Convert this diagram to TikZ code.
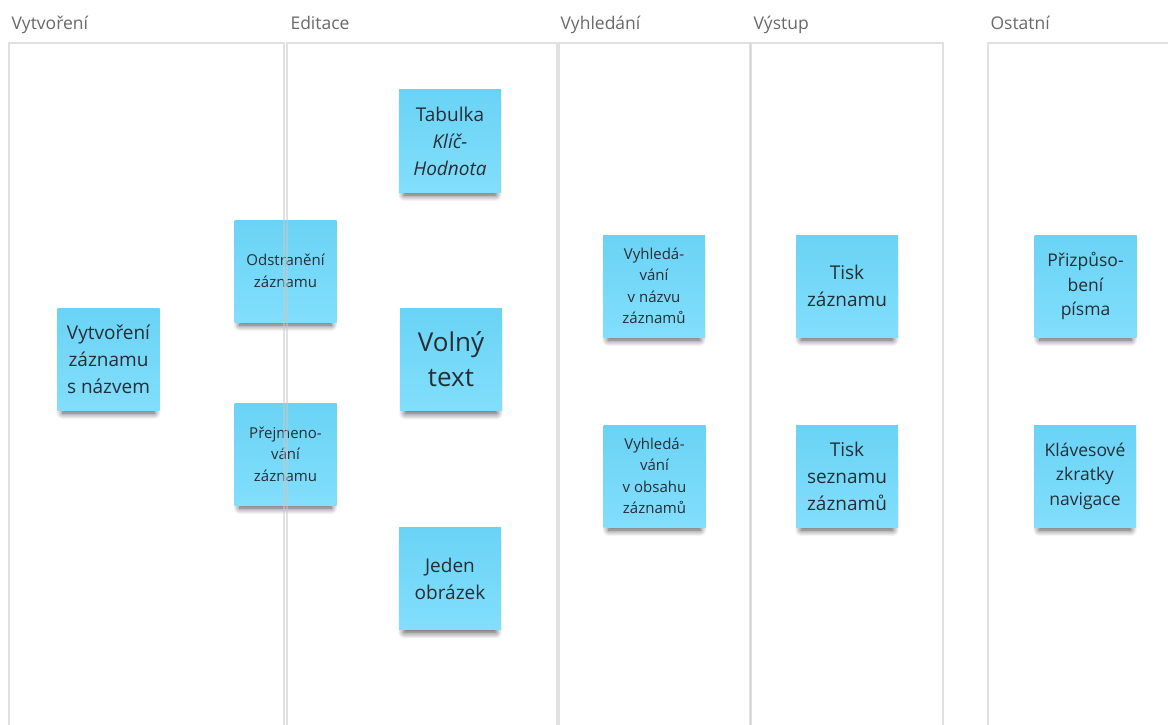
\documentclass[tikz,border=0pt]{standalone}
\usepackage{fontspec}
\setmainfont{Open Sans}
\usetikzlibrary{shadows.blur}

\definecolor{notetop}{RGB}{106,211,245}
\definecolor{notebottom}{RGB}{130,222,252}
\definecolor{notetext}{RGB}{38,46,52}
\definecolor{titlegray}{RGB}{105,105,105}
\definecolor{lanegray}{RGB}{200,200,200}

\begin{document}
\begin{tikzpicture}[x=1pt, y=-1pt,
    note/.style={minimum width=102pt, minimum height=102pt, inner sep=2pt,
        align=center, text=notetext, top color=notetop, bottom color=notebottom,
        blur shadow={shadow xshift=0pt, shadow yshift=-9pt, shadow scale=0.9,
            shadow opacity=70, shadow blur radius=7pt, shadow blur steps=14}},
    fsmall/.style={font=\fontsize{15}{21.5}\selectfont},
    fmed/.style={font=\fontsize{17.5}{24.5}\selectfont},
    fmid/.style={font=\fontsize{19}{27}\selectfont},
    fbig/.style={font=\fontsize{26}{35}\selectfont},
    lane/.style={draw=lanegray, draw opacity=0.55, line width=1.4pt},
    lanetitle/.style={anchor=base west, text=titlegray, font=\fontsize{17.5}{20}\selectfont}]
    \clip (0,0) rectangle (1168,725);

    % Notes
    \foreach \n/\x/\y/\s/\t in {
        create/108.5/359/fmid/{Vytvoření\\záznamu\\s názvem},
        remove/285.5/271/fsmall/{Odstranění\\záznamu},
        rename/285.5/454/fsmall/{Přejmeno-\\vání\\záznamu},
        table/450/141/fmid/{Tabulka\\\textit{Klíč-}\\\textit{Hodnota}},
        freetext/451/359.5/fbig/{Volný\\text},
        image/450/578.5/fmid/{Jeden\\obrázek},
        searchname/654/286/fsmall/{Vyhledá-\\vání\\v názvu\\záznamů},
        searchbody/654.5/476/fsmall/{Vyhledá-\\vání\\v obsahu\\záznamů},
        printrec/847/286/fmid/{Tisk\\záznamu},
        printlist/847/476/fmid/{Tisk\\seznamu\\záznamů},
        fontsize/1085.5/286/fmed/{Přizpůso-\\bení\\písma},
        shortcuts/1085/476/fmed/{Klávesové\\zkratky\\navigace}}
        \node[note, \s] (\n) at (\x,\y) {\t};

    % Lanes
    \foreach \l/\r in {9/284, 287/557, 559/750, 751/943, 988/1200}
        \draw[lane] (\l,740) -- (\l,43) -- (\r,43) -- (\r,740);

    % Lane titles
    \foreach \n/\x/\t in {tcreate/8/Vytvoření, tedit/287/Editace, tsearch/557/Vyhledání,
        toutput/750/Výstup, tother/987/Ostatní}
        \node[lanetitle] (\n) at (\x,29.5) {\t};
\end{tikzpicture}
\end{document}
